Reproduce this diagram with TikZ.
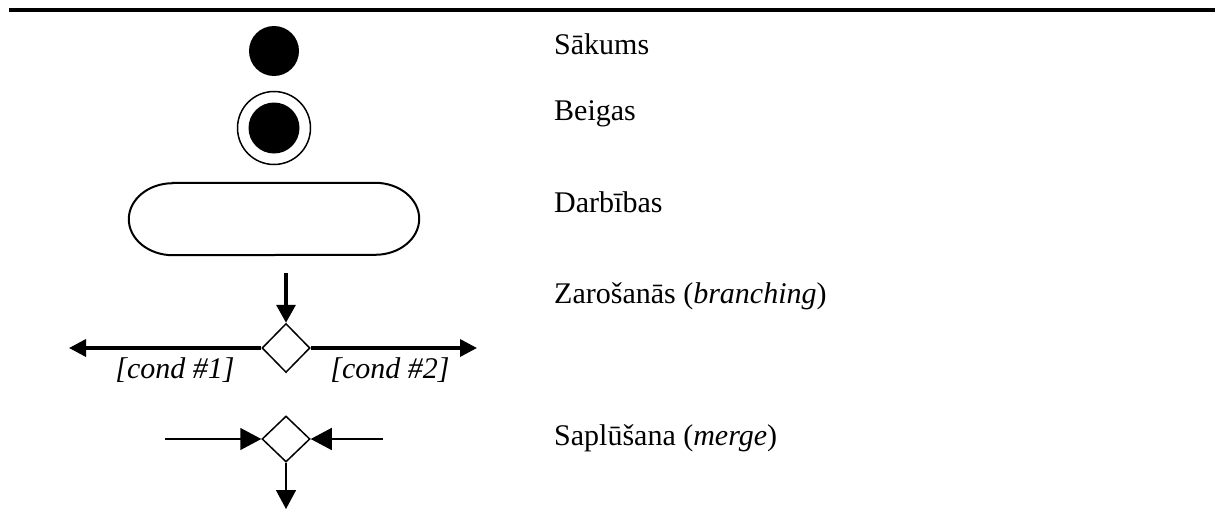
\documentclass[tikz,border=0pt]{standalone}
\usepackage{fontspec}
\setmainfont{Liberation Serif}
\usepackage{tikz}
\usetikzlibrary{positioning,shapes.geometric,arrows.meta}

\tikzset{
  legendtext/.style={anchor=base west,inner sep=0pt,font=\fontsize{30}{36}\selectfont},
  condtext/.style={anchor=base,inner sep=0pt,font=\fontsize{30}{36}\selectfont\itshape},
  dot/.style={circle,fill=black,inner sep=0pt,minimum size=50},
  choice/.style={diamond,draw,line width=1.5,inner sep=0pt,minimum width=48,minimum height=48},
  flowthick/.style={line width=3.5,-{Triangle[length=17,width=17]}},
  flowthin/.style={line width=1.5,-{Triangle[length=21,width=22]}}
}

\begin{document}
\begin{tikzpicture}[x=1pt,y=-1pt]
\useasboundingbox (0,0) rectangle (1215,511);

\coordinate (RuleL) at (9,10.5);
\coordinate (RuleR) at (1215,10.5);
\draw[line width=4] (RuleL) -- (RuleR);

% symbols
\node[dot] (start) at (274,51) {};
\node[circle,draw,line width=1.5,inner sep=0pt,minimum size=73] (endring) at (274,128) {};
\node[dot,minimum size=51] (enddot) at (endring.center) {};
\node[inner sep=0pt,minimum width=290,minimum height=72] (act) at (274,219) {};
\draw[line width=2] ([xshift=44pt]act.north west) -- ([xshift=-44pt]act.north east)
  arc[start angle=90,end angle=-90,x radius=44pt,y radius=36pt]
  -- ([xshift=44pt]act.south west)
  arc[start angle=270,end angle=90,x radius=44pt,y radius=36pt] -- cycle;

\node[choice,minimum height=49] (branch) at (286,348) {};
\coordinate (BrIn) at (286,273);
\coordinate (BrL) at (69,348);
\coordinate (BrR) at (477,348);
\draw[flowthick,-{Triangle[length=18,width=19]}] (BrIn) -- (branch.north);
\draw[flowthick] (branch.west) -- (BrL);
\draw[flowthick] (branch.east) -- (BrR);

\node[choice,minimum height=46] (merge) at (286,439) {};
\coordinate (MeL) at (165,439);
\coordinate (MeR) at (383,439);
\coordinate (MeOut) at (286,509);
\draw[flowthin] (MeL) -- (merge.west);
\draw[flowthin] (MeR) -- (merge.east);
\draw[flowthin,-{Triangle[length=19,width=20]}] (merge.south) -- (MeOut);

\node[condtext] (cond1) at (175,378) {[cond \#1]};
\node[condtext] (cond2) at (390,378) {[cond \#2]};

% legend texts
\node[legendtext] (tstart) at (554,55) {Sākums};
\node[legendtext] (tend) at (554,120) {Beigas};
\node[legendtext] (tact) at (554,212) {Darbības};
\node[legendtext] (tbranch) at (554,303) {Zarošanās (\textit{branching})};
\node[legendtext] (tmerge) at (554,445) {Saplūšana (\textit{merge})};
\end{tikzpicture}
\end{document}
